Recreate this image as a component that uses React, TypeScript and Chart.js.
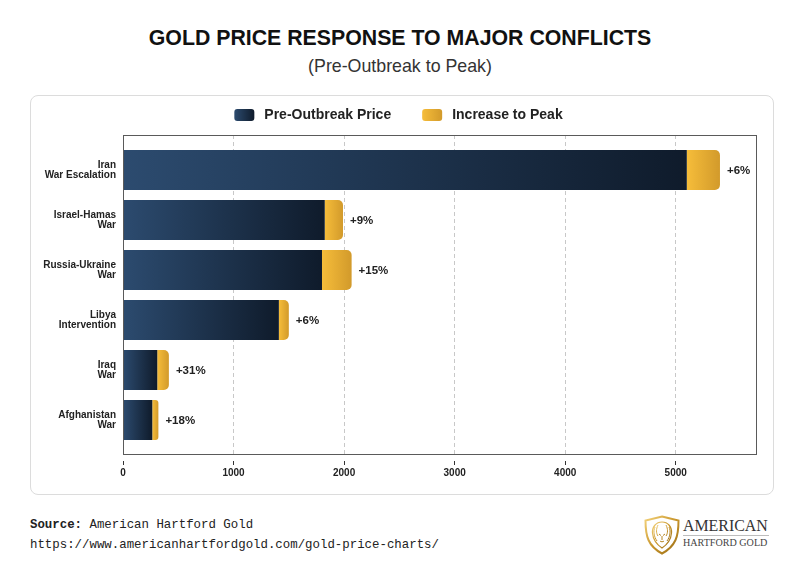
import React, { useEffect, useRef } from 'react';
import { Chart, registerables } from 'chart.js';

Chart.register(...registerables);

// ---------- data ----------
const categories: string[][] = [
  ['Iran', 'War Escalation'],
  ['Israel-Hamas', 'War'],
  ['Russia-Ukraine', 'War'],
  ['Libya', 'Intervention'],
  ['Iraq', 'War'],
  ['Afghanistan', 'War'],
];
const preOutbreakPrice = [5100, 1825, 1800, 1410, 310, 265];
const increaseToPeak = [300, 165, 268, 90, 105, 55];
const increaseLabels = ['+6%', '+9%', '+15%', '+6%', '+31%', '+18%'];
const seriesNames = ['Pre-Outbreak Price', 'Increase to Peak'];
const xTickValues = [0, 1000, 2000, 3000, 4000, 5000];
const xAxisMax = 5735;

// ---------- style ----------
const SANS = '"Liberation Sans", Arial, Helvetica, sans-serif';
const MONO = '"Liberation Mono", "DejaVu Sans Mono", monospace';
const SERIF = '"Liberation Serif", "Times New Roman", serif';
const DARK_STOPS = ['#2c4b6f', '#0f1b2b'];
const GOLD_STOPS = ['#f6bd3a', '#d29a2b'];

function gradientFor(chart: any, from: number, to: number, stops: string[]) {
  const xs = chart.scales?.x;
  if (!xs || !chart.chartArea) return stops[0];
  const x0 = xs.getPixelForValue(from);
  const x1 = xs.getPixelForValue(to);
  if (!isFinite(x0) || !isFinite(x1) || x1 - x0 < 0.5) return stops[0];
  const g = chart.ctx.createLinearGradient(x0, 0, x1, 0);
  g.addColorStop(0, stops[0]);
  g.addColorStop(1, stops[1]);
  return g;
}

const framePlugin = {
  id: 'frame',
  afterDraw(chart: any) {
    const { ctx, chartArea: a } = chart;
    ctx.save();
    ctx.strokeStyle = '#5a5a5a';
    ctx.lineWidth = 1;
    ctx.setLineDash([]);
    ctx.strokeRect(Math.round(a.left) + 0.5, Math.round(a.top) + 0.5, Math.round(a.right - a.left) - 1, Math.round(a.bottom - a.top));
    ctx.restore();
  },
};

const valueLabelPlugin = {
  id: 'valueLabels',
  afterDraw(chart: any) {
    const { ctx } = chart;
    const meta = chart.getDatasetMeta(1);
    ctx.save();
    ctx.font = `bold 11.5px ${SANS}`;
    ctx.fillStyle = '#222222';
    ctx.textAlign = 'left';
    ctx.textBaseline = 'middle';
    meta.data.forEach((el: any, i: number) => {
      ctx.fillText(increaseLabels[i], el.x + 7, el.y + 0.5);
    });
    ctx.restore();
  },
};

const legendPlugin = {
  id: 'customLegend',
  afterDraw(chart: any) {
    const { ctx } = chart;
    const stops = [DARK_STOPS, GOLD_STOPS];
    const boxW = 20, boxH = 12, gapText = 10, gapItem = 31;
    ctx.save();
    ctx.font = `bold 14px ${SANS}`;
    const labels = chart.data.datasets.map((d: any) => d.label as string);
    const widths = labels.map((t: string) => boxW + gapText + ctx.measureText(t).width);
    const total = widths.reduce((a: number, b: number) => a + b, 0) + gapItem * (labels.length - 1);
    const cy = 20;
    let x = 368.5 - total / 2;
    labels.forEach((t: string, i: number) => {
      const g = ctx.createLinearGradient(x, 0, x + boxW, 0);
      g.addColorStop(0, stops[i][0]);
      g.addColorStop(1, stops[i][1]);
      ctx.fillStyle = g;
      ctx.beginPath();
      ctx.roundRect(x, cy - boxH / 2, boxW, boxH, 3);
      ctx.fill();
      ctx.fillStyle = '#222222';
      ctx.textAlign = 'left';
      ctx.textBaseline = 'middle';
      ctx.fillText(t, x + boxW + gapText, cy + 0.5);
      x += widths[i] + gapItem;
    });
    ctx.restore();
  },
};

function ConflictChart() {
  const ref = useRef<HTMLCanvasElement | null>(null);
  useEffect(() => {
    if (!ref.current) return;
    const chart = new Chart(ref.current, {
      type: 'bar',
      data: {
        datasets: [
          {
            label: seriesNames[0],
            data: preOutbreakPrice.map((v, i) => ({ x: v, y: i })),
            backgroundColor: (c: any) =>
              c.type === 'data' ? gradientFor(c.chart, 0, preOutbreakPrice[c.dataIndex], DARK_STOPS) : DARK_STOPS[0],
            borderWidth: 0,
            borderRadius: 0,
            barPercentage: 0.8,
            categoryPercentage: 1,
          },
          {
            label: seriesNames[1],
            data: increaseToPeak.map((v, i) => ({ x: v, y: i })),
            backgroundColor: (c: any) =>
              c.type === 'data'
                ? gradientFor(
                    c.chart,
                    preOutbreakPrice[c.dataIndex],
                    preOutbreakPrice[c.dataIndex] + increaseToPeak[c.dataIndex],
                    GOLD_STOPS
                  )
                : GOLD_STOPS[0],
            borderWidth: 0,
            borderRadius: 5,
            borderSkipped: 'start',
            barPercentage: 0.8,
            categoryPercentage: 1,
          },
        ] as any,
      },
      options: {
        indexAxis: 'y',
        animation: false,
        responsive: true,
        maintainAspectRatio: false,
        layout: { padding: { top: 40, right: 17, bottom: 0, left: 0 } },
        plugins: {
          legend: { display: false },
          tooltip: { enabled: false },
          title: { display: false },
        },
        scales: {
          x: {
            type: 'linear',
            position: 'bottom',
            stacked: true,
            bounds: 'data',
            min: 0,
            max: xAxisMax,
            z: 1,
            grid: {
              color: (c: any) => (c.tick && c.tick.value === 0 ? 'rgba(0,0,0,0)' : '#c8c8c8'),
              lineWidth: 1,
              drawTicks: true,
              tickLength: 12,
              tickColor: '#333333',
              tickWidth: 1,
              tickBorderDash: [0, 7, 4, 100],
            } as any,
            border: { display: false, dash: [4, 3] },
            ticks: {
              padding: 1,
              maxRotation: 0,
              autoSkip: false,
              color: '#222222',
              font: { family: SANS, size: 10, weight: 'bold' },
              callback: (v: any) => String(v),
            },
            afterBuildTicks: (s: any) => {
              s.ticks = xTickValues.map((v) => ({ value: v }));
            },
            afterFit: (s: any) => {
              s.height = 41;
            },
          },
          y: {
            type: 'linear',
            reverse: true,
            stacked: true,
            offset: false,
            bounds: 'data',
            min: -0.7,
            max: 5.68,
            grid: { display: false, drawTicks: false, offset: false },
            border: { display: false },
            ticks: {
              autoSkip: false,
              padding: 7,
              color: '#222222',
              font: { family: SANS, size: 10, weight: 'bold', lineHeight: 1 },
              callback: (v: any) => categories[Math.round(v as number)] ?? '',
            },
            afterBuildTicks: (s: any) => {
              s.ticks = categories.map((_, i) => ({ value: i }));
            },
            afterFit: (s: any) => {
              s.width = 93;
            },
          },
        },
      } as any,
      plugins: [framePlugin, valueLabelPlugin, legendPlugin],
    });
    return () => chart.destroy();
  }, []);
  return <canvas ref={ref} />;
}

function Logo() {
  return (
    <svg width="38" height="40" viewBox="0 0 38 40" style={{ position: 'absolute', left: 643, top: 515 }}>
      <defs>
        <linearGradient id="goldg" x1="0" y1="0" x2="1" y2="1">
          <stop offset="0" stopColor="#f3d27a" />
          <stop offset="0.5" stopColor="#c9962c" />
          <stop offset="1" stopColor="#9a6d16" />
        </linearGradient>
      </defs>
      <path d="M19 1.5 L35.5 5.5 C35.5 21 33 31 19 38.5 C5 31 2.5 21 2.5 5.5 Z" fill="#fff" stroke="url(#goldg)" strokeWidth="2" />
      <path d="M19 7 C13 7 9 12 9.5 18 C10 24 13 29 19 33 C25 29 28 24 28.5 18 C29 12 25 7 19 7 Z" fill="none" stroke="url(#goldg)" strokeWidth="1.2" />
      <path d="M12 12 C10 16 11 22 14 26 M26 12 C28 16 27 22 24 26 M15 10 C13 14 13 18 15 21 M23 10 C25 14 25 18 23 21" fill="none" stroke="url(#goldg)" strokeWidth="1" />
      <path d="M16 19 L18 20.5 M22 19 L20 20.5 M17 26 C18 27 20 27 21 26 M19 21 L19 25" fill="none" stroke="#b58522" strokeWidth="1" />
    </svg>
  );
}

export default function App() {
  return (
    <div
      style={{
        position: 'absolute',
        left: 0,
        top: 0,
        width: 800,
        height: 570,
        background: '#ffffff',
        overflow: 'hidden',
        fontFamily: SANS,
      }}
    >
      <div
        style={{
          position: 'absolute',
          left: 0,
          top: 26,
          width: 800,
          textAlign: 'center',
          fontFamily: SANS,
          fontWeight: 'bold',
          fontSize: 21.3,
          lineHeight: '24px',
          color: '#111111',
        }}
      >
        GOLD PRICE RESPONSE TO MAJOR CONFLICTS
      </div>
      <div
        style={{
          position: 'absolute',
          left: 0,
          top: 56,
          width: 800,
          textAlign: 'center',
          fontFamily: SANS,
          fontSize: 17.8,
          lineHeight: '20px',
          color: '#333333',
        }}
      >
        (Pre-Outbreak to Peak)
      </div>
      <div
        style={{
          position: 'absolute',
          left: 30,
          top: 95,
          width: 744,
          height: 400,
          boxSizing: 'border-box',
          border: '1px solid #dcdcdc',
          borderRadius: 8,
          background: '#ffffff',
        }}
      />
      <div style={{ position: 'absolute', left: 30, top: 95, width: 744, height: 400 }}>
        <ConflictChart />
      </div>
      <div
        style={{
          position: 'absolute',
          left: 30,
          top: 517,
          fontFamily: MONO,
          fontSize: 12.4,
          lineHeight: '16px',
          color: '#222222',
          whiteSpace: 'nowrap',
        }}
      >
        <span style={{ fontWeight: 'bold' }}>Source:</span> American Hartford Gold
      </div>
      <div
        style={{
          position: 'absolute',
          left: 30,
          top: 537,
          fontFamily: MONO,
          fontSize: 12.4,
          lineHeight: '16px',
          color: '#222222',
          whiteSpace: 'nowrap',
        }}
      >
        https://www.americanhartfordgold.com/gold-price-charts/
      </div>
      <Logo />
      <div
        style={{
          position: 'absolute',
          left: 683,
          top: 517,
          fontFamily: SERIF,
          fontSize: 15.9,
          lineHeight: '18px',
          color: '#333333',
          whiteSpace: 'nowrap',
        }}
      >
        AMERICAN
      </div>
      <div style={{ position: 'absolute', left: 683, top: 535, width: 86, height: 1, background: '#bdbdbd' }} />
      <div
        style={{
          position: 'absolute',
          left: 683,
          top: 537,
          fontFamily: SERIF,
          fontSize: 10.1,
          lineHeight: '12px',
          color: '#444444',
          whiteSpace: 'nowrap',
        }}
      >
        HARTFORD GOLD
      </div>
    </div>
  );
}
